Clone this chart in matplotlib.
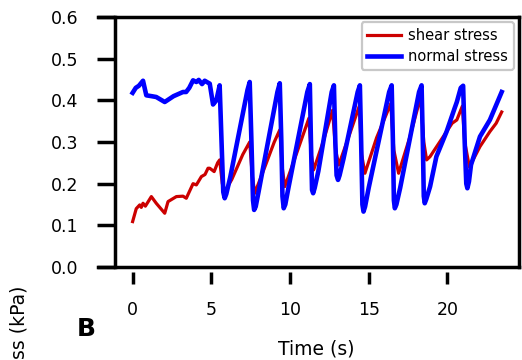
import matplotlib
matplotlib.use("Agg")
import matplotlib.pyplot as plt

# normal stress (blue), time in s, stress in kPa
normal_t = [0, 0.2, 0.4, 0.66, 0.87, 1.2, 1.5, 2.04, 2.6, 3.2, 3.4, 3.6, 3.84, 4.05,
            4.2, 4.41, 4.58, 4.9, 5.11, 5.32, 5.53,
            5.65, 5.76, 5.85, 5.95, 6.2, 7.3, 7.44,
            7.55, 7.65, 7.72, 7.82, 8.0, 9.2, 9.35,
            9.45, 9.52, 9.6, 9.7, 9.9, 11.1, 11.26,
            11.33, 11.4, 11.47, 11.57, 11.8, 12.65, 12.79,
            12.88, 12.96, 13.05, 13.15, 13.4, 14.3, 14.44,
            14.52, 14.6, 14.67, 14.77, 15.0, 16.3, 16.46,
            16.54, 16.6, 16.66, 16.76, 17.0, 18.2, 18.36,
            18.44, 18.5, 18.56, 18.66, 18.9, 19.3, 19.95, 20.45, 20.6, 20.85, 21.0,
            21.1, 21.2, 21.27, 21.37, 21.5, 22.07, 22.7, 23.45]
normal_s = [0.418, 0.43, 0.435, 0.447, 0.412, 0.41, 0.408, 0.396, 0.41, 0.42, 0.42, 0.43, 0.448, 0.444,
            0.449, 0.439, 0.447, 0.44, 0.39, 0.40, 0.436,
            0.30, 0.18, 0.165, 0.175, 0.215, 0.425, 0.444,
            0.30, 0.16, 0.137, 0.145, 0.18, 0.42, 0.441,
            0.30, 0.17, 0.141, 0.15, 0.19, 0.42, 0.439,
            0.30, 0.185, 0.177, 0.19, 0.23, 0.42, 0.436,
            0.30, 0.22, 0.209, 0.22, 0.26, 0.42, 0.436,
            0.30, 0.15, 0.133, 0.145, 0.19, 0.42, 0.436,
            0.30, 0.16, 0.141, 0.15, 0.19, 0.42, 0.436,
            0.30, 0.17, 0.153, 0.163, 0.193, 0.265, 0.325, 0.38, 0.396, 0.43, 0.435,
            0.30, 0.20, 0.189, 0.205, 0.245, 0.313, 0.353, 0.42]

# shear stress (red)
shear_t = [0, 0.23, 0.45, 0.55, 0.66, 0.81, 1.19, 1.5, 2.04, 2.25, 2.78, 3.2, 3.41, 3.84,
           4.05, 4.37, 4.6, 4.79, 4.9, 5.18, 5.4, 5.53, 5.7, 5.85, 6.3, 7.0, 7.44,
           7.6, 7.76, 8.4, 9.0, 9.35, 9.5, 9.67, 10.3, 11.2, 11.35, 11.5, 12.1, 12.7,
           12.9, 13.1, 13.8, 14.4, 14.55, 14.76, 15.5, 16.4, 16.6, 16.9, 17.6, 18.3,
           18.5, 18.68, 18.9, 19.95, 20.3, 20.6, 20.95, 21.1, 21.4, 22.07, 22.7, 23.1, 23.45]
shear_s = [0.109, 0.14, 0.149, 0.143, 0.153, 0.146, 0.169, 0.153, 0.129, 0.157, 0.169, 0.17, 0.165, 0.2,
           0.197, 0.217, 0.222, 0.237, 0.237, 0.229, 0.25, 0.257, 0.2, 0.181, 0.21, 0.27, 0.30,
           0.22, 0.177, 0.24, 0.30, 0.329, 0.24, 0.193, 0.26, 0.357, 0.27, 0.233, 0.30, 0.376,
           0.28, 0.245, 0.32, 0.386, 0.27, 0.225, 0.31, 0.392, 0.28, 0.225, 0.31, 0.408,
           0.30, 0.257, 0.265, 0.325, 0.345, 0.353, 0.386, 0.30, 0.24, 0.289, 0.325, 0.345, 0.372]

xticks = [0, 5, 10, 15, 20]
yticks = [0.0, 0.1, 0.2, 0.3, 0.4, 0.5, 0.6]

fig = plt.figure(figsize=(5.22, 3.6), dpi=100)
ax = fig.add_axes([98 / 522, 1 - 267 / 360, 421 / 522, 250 / 360])

ax.plot(shear_t, shear_s, color='#cc0000', lw=2.3, label='shear stress')
ax.plot(normal_t, normal_s, color='#0000ff', lw=3.3, label='normal stress')

ax.set_xlim(-2.2, 24.55)
ax.set_ylim(0, 0.6)
ax.set_xticks(xticks)
ax.set_xticklabels([str(v) for v in xticks])
ax.set_yticks(yticks)
ax.set_yticklabels(['%.1f' % v for v in yticks])

for s in ['top', 'right', 'left']:
    ax.spines[s].set_linewidth(2.5)
ax.spines['left'].set_position(('data', -1.1))
ax.spines['bottom'].set_position(('outward', 3.6))
ax.spines['bottom'].set_visible(False)
ax.plot([0, 1], [0, 0], transform=ax.transAxes, color='k', lw=2.5, clip_on=False)

ax.tick_params(axis='y', direction='out', length=13, width=2.5, pad=13.5, labelsize=12.5)
ax.tick_params(axis='x', direction='out', length=8.6, width=2.5, pad=12, labelsize=12.5)

leg = ax.legend(loc='upper right', fontsize=10.5, handlelength=2.3, handletextpad=0.5,
                labelspacing=0.4, borderaxespad=0.35, fancybox=True, framealpha=1)
leg.get_frame().set_edgecolor('#c8c8c8')
leg.get_frame().set_linewidth(1.6)

fig.text(316.5 / 522, 1 - 349 / 360, 'Time (s)', ha='center', va='center', fontsize=13.5)
fig.text(86 / 522, 1 - 329 / 360, 'B', ha='center', va='center', fontsize=18, fontweight='bold')
# y label of the panel below, cut by the figure edge in the original
fig.text(19 / 522, 1 - 286 / 360, 'ss (kPa)', ha='center', va='top', rotation=90, fontsize=13.5)

fig.savefig('out.png', dpi=100)
